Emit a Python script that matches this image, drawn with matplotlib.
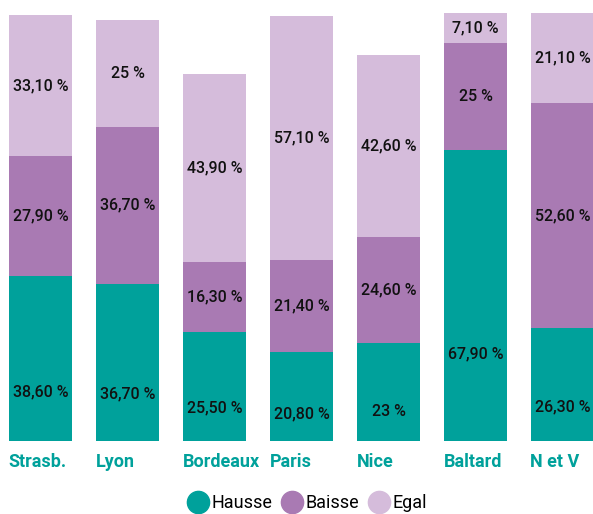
import matplotlib
matplotlib.use("Agg")
import matplotlib.pyplot as plt
from matplotlib.lines import Line2D
import numpy as np

villes = ["Strasb.", "Lyon", "Bordeaux", "Paris", "Nice", "Baltard", "N et V"]
hausse = [38.6, 36.7, 25.5, 20.8, 23.0, 67.9, 26.3]
baisse = [27.9, 36.7, 16.3, 21.4, 24.6, 25.0, 52.6]
egal = [33.1, 25.0, 43.9, 57.1, 42.6, 7.1, 21.1]

c_hausse = "#00a19b"
c_baisse = "#a97ab3"
c_egal = "#d5bcdb"


def fmt(v):
    if v == int(v):
        return "%d %%" % v
    return ("%.2f %%" % v).replace(".", ",")


label_kw = dict(family=["Roboto", "DejaVu Sans"], fontweight="medium", fontsize=11.5)

fig = plt.figure(figsize=(5.93, 5.14), dpi=100)
ax = fig.add_axes([0, 73 / 514, 1, 428 / 514])

x = np.arange(len(villes))
w = 63 / 87
h = np.array(hausse)
b = np.array(baisse)
e = np.array(egal)
ax.bar(x, h, w, color=c_hausse)
ax.bar(x, b, w, bottom=h, color=c_baisse)
ax.bar(x, e, w, bottom=h + b, color=c_egal)

for i in range(len(villes)):
    ax.text(x[i], h[i] * 0.3, fmt(h[i]), ha="center", va="center", color="#111111", **label_kw)
    ax.text(x[i], h[i] + b[i] / 2, fmt(b[i]), ha="center", va="center", color="#111111", **label_kw)
    ax.text(x[i], h[i] + b[i] + e[i] / 2, fmt(e[i]), ha="center", va="center", color="#111111", **label_kw)

ax.set_xlim(-40.5 / 87, (593 - 40.5) / 87)
ax.set_ylim(0, 100)
ax.axis("off")

for i, v in enumerate(villes):
    fig.text((40.5 + 87 * i - 32) / 593, 1 - 462 / 514, v, ha="left", va="center",
             fontsize=13, fontweight="bold", color=c_hausse, family=["Roboto", "DejaVu Sans"])

handles = [Line2D([], [], marker="o", ls="", markersize=16, color=c)
           for c in (c_hausse, c_baisse, c_egal)]
fig.legend(handles, ["Hausse", "Baisse", "Egal"], loc="center",
           bbox_to_anchor=(307 / 593, 1 - 503 / 514), ncol=3, frameon=False,
           handletextpad=0.15, columnspacing=0.5, handlelength=1.2,
           prop={"family": ["Roboto", "DejaVu Sans"], "size": 13})

fig.savefig("out.png", dpi=100)
